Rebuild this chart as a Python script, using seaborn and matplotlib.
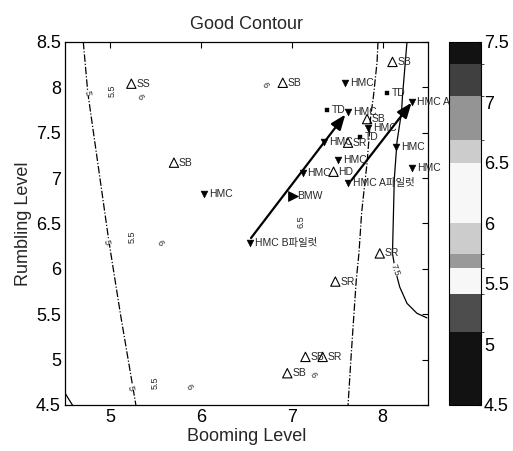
import numpy as np
import pandas as pd
import matplotlib
matplotlib.use("Agg")
import matplotlib.pyplot as plt
import seaborn as sns
from matplotlib.colors import ListedColormap, BoundaryNorm
from matplotlib.cm import ScalarMappable

sns.set_style("white")
plt.rcParams['font.family'] = ['Liberation Sans', 'Noto Sans CJK KR', 'DejaVu Sans']

# ---------------- data ----------------
hmc_x = [6.03, 6.54, 7.59, 7.62, 8.33, 7.84, 7.36, 8.15, 7.51, 7.12, 8.33, 7.62]
hmc_y = [6.83, 6.29, 8.05, 7.73, 7.84, 7.55, 7.40, 7.34, 7.20, 7.06, 7.11, 6.95]
hmc_lab = ["HMC", "HMC B파일럿", "HMC", "HMC", "HMC A", "HMC", "HMC", "HMC", "HMC",
           "HMC", "HMC", "HMC A파일럿"]

tri_x = [5.23, 5.70, 6.90, 8.11, 7.83, 7.62, 7.46, 7.97, 7.48, 7.15, 7.34, 6.95]
tri_y = [8.04, 7.17, 8.05, 8.28, 7.65, 7.39, 7.07, 6.17, 5.86, 5.03, 5.03, 4.85]
tri_lab = ["SS", "SB", "SB", "SB", "SB", "SR", "HD", "SR", "SR", "SB", "SR", "SB"]

td_x = [8.05, 7.39, 7.75]
td_y = [7.94, 7.75, 7.45]
td_lab = ["TD", "TD", "TD"]

bmw_x = [7.01]
bmw_y = [6.80]
bmw_lab = ["BMW"]

# arrows (start -> end)
arrow_start_x = [6.55, 7.66]
arrow_start_y = [6.34, 6.98]
arrow_end_x = [7.59, 8.32]
arrow_end_y = [7.70, 7.83]

# contour lines
line_a_x = [4.70, 4.75, 4.98, 5.11, 5.28]
line_a_y = [8.50, 7.94, 6.32, 5.50, 4.50]
line_b_x = [4.50, 4.53, 4.58]
line_b_y = [4.63, 4.58, 4.50]
line_c_x = [7.95, 7.94, 7.90, 7.87, 7.83, 7.80, 7.77, 7.74, 7.71, 7.68, 7.65, 7.62]
line_c_y = [8.50, 8.28, 7.90, 7.68, 7.17, 6.90, 6.62, 6.17, 5.87, 5.43, 4.98, 4.50]
line_d_x = [8.27, 8.22, 8.21, 8.16, 8.13, 8.11, 8.14, 8.19, 8.27, 8.38, 8.49]
line_d_y = [8.50, 7.90, 7.73, 7.40, 6.99, 6.17, 5.99, 5.80, 5.62, 5.51, 5.46]

clab_x = [4.75, 5.02, 5.33, 4.96, 5.24, 5.55, 5.22, 5.49, 5.86, 7.23, 6.70, 7.10, 8.14]
clab_y = [7.94, 7.96, 7.89, 6.30, 6.35, 6.29, 4.69, 4.74, 4.70, 4.83, 8.03, 6.52, 5.99]
clab_t = ["5", "5.5", "6", "5", "5.5", "6", "5", "5.5", "6", "6", "6", "6.5", "7.5"]
clab_rot = [-80, 90, -60, -80, 90, -60, -80, 90, -60, -60, -60, 90, -70]

# colorbar bands
cb_bounds = [4.5, 5.1, 5.42, 5.63, 5.75, 6.0, 6.5, 6.69, 7.05, 7.32, 7.5]
cb_grays = [0.07, 0.30, 0.97, 0.6, 0.8, 0.97, 0.8, 0.58, 0.25, 0.07]

# ---------------- figure ----------------
fig = plt.figure(figsize=(5.13, 4.51), dpi=100)
ax = fig.add_axes([0.127, 0.102, 0.707, 0.805])
cax = fig.add_axes([0.875, 0.102, 0.063, 0.805])

lw_c = 0.9
for lx, ly, ls in [(line_a_x, line_a_y, (0, (6, 1.5, 1, 1.5))), (line_b_x, line_b_y, '-'),
                   (line_c_x, line_c_y, (0, (6, 1.5, 1, 1.5))), (line_d_x, line_d_y, '-')]:
    ax.plot(lx, ly, color='black', lw=lw_c, linestyle=ls)

for x, y, t, r in zip(clab_x, clab_y, clab_t, clab_rot):
    ax.text(x, y, t, fontsize=6.5, rotation=r, ha='center', va='center',
            bbox=dict(facecolor='white', edgecolor='none', pad=0.2))

df_hmc = pd.DataFrame({"x": hmc_x, "y": hmc_y, "lab": hmc_lab})
df_tri = pd.DataFrame({"x": tri_x, "y": tri_y, "lab": tri_lab})
df_td = pd.DataFrame({"x": td_x, "y": td_y, "lab": td_lab})
df_bmw = pd.DataFrame({"x": bmw_x, "y": bmw_y, "lab": bmw_lab})

sns.scatterplot(data=df_hmc, x="x", y="y", marker="v", s=24, color="black",
                edgecolor="black", ax=ax, zorder=3, clip_on=False)
sns.scatterplot(data=df_tri, x="x", y="y", marker="^", s=45, facecolors="none",
                edgecolors="black", linewidth=0.8, ax=ax, zorder=3)
sns.scatterplot(data=df_td, x="x", y="y", marker="s", s=12, color="black",
                edgecolor="black", ax=ax, zorder=3)
sns.scatterplot(data=df_bmw, x="x", y="y", marker=">", s=50, color="black",
                edgecolor="black", ax=ax, zorder=3)

for d in (df_hmc, df_tri, df_td, df_bmw):
    for _, r in d.iterrows():
        ax.annotate(r["lab"], (r["x"], r["y"]), xytext=(3.5, 0),
                    textcoords="offset points", fontsize=7.5, va="center",
                    ha="left", annotation_clip=False, zorder=4)

for sx, sy, ex, ey in zip(arrow_start_x, arrow_start_y, arrow_end_x, arrow_end_y):
    ax.annotate("", xy=(ex, ey), xytext=(sx, sy),
                arrowprops=dict(arrowstyle="-|>,head_length=0.9,head_width=0.35",
                                color="black", lw=1.6, shrinkA=0, shrinkB=0))

ax.set_xlim(4.5, 8.5)
ax.set_ylim(4.5, 8.5)
ax.set_xticks([5, 6, 7, 8])
ax.set_yticks([4.5, 5, 5.5, 6, 6.5, 7, 7.5, 8, 8.5])
ax.set_yticklabels(["4.5", "5", "5.5", "6", "6.5", "7", "7.5", "8", "8.5"])
ax.tick_params(direction="in", length=4, width=0.8, top=True, right=True,
               labelsize=13, colors="black", pad=3)
for s in ax.spines.values():
    s.set_color("black")
    s.set_linewidth(0.9)
ax.set_xlabel("Booming Level", fontsize=13, labelpad=1)
ax.set_ylabel("Rumbling Level", fontsize=13, labelpad=3)
ax.set_title("Good Contour", fontsize=13, pad=9)

cmap = ListedColormap([(g, g, g) for g in cb_grays])
norm = BoundaryNorm(cb_bounds, cmap.N)
sm = ScalarMappable(norm=norm, cmap=cmap)
cb = fig.colorbar(sm, cax=cax, boundaries=cb_bounds, spacing="proportional")
cb.set_ticks([4.5, 5, 5.5, 6, 6.5, 7, 7.5])
cb.set_ticklabels(["4.5", "5", "5.5", "6", "6.5", "7", "7.5"])
cax.tick_params(direction="in", length=3, labelsize=13, colors="black", pad=2)
cb.outline.set_edgecolor("black")

fig.savefig("out.png", dpi=100)
